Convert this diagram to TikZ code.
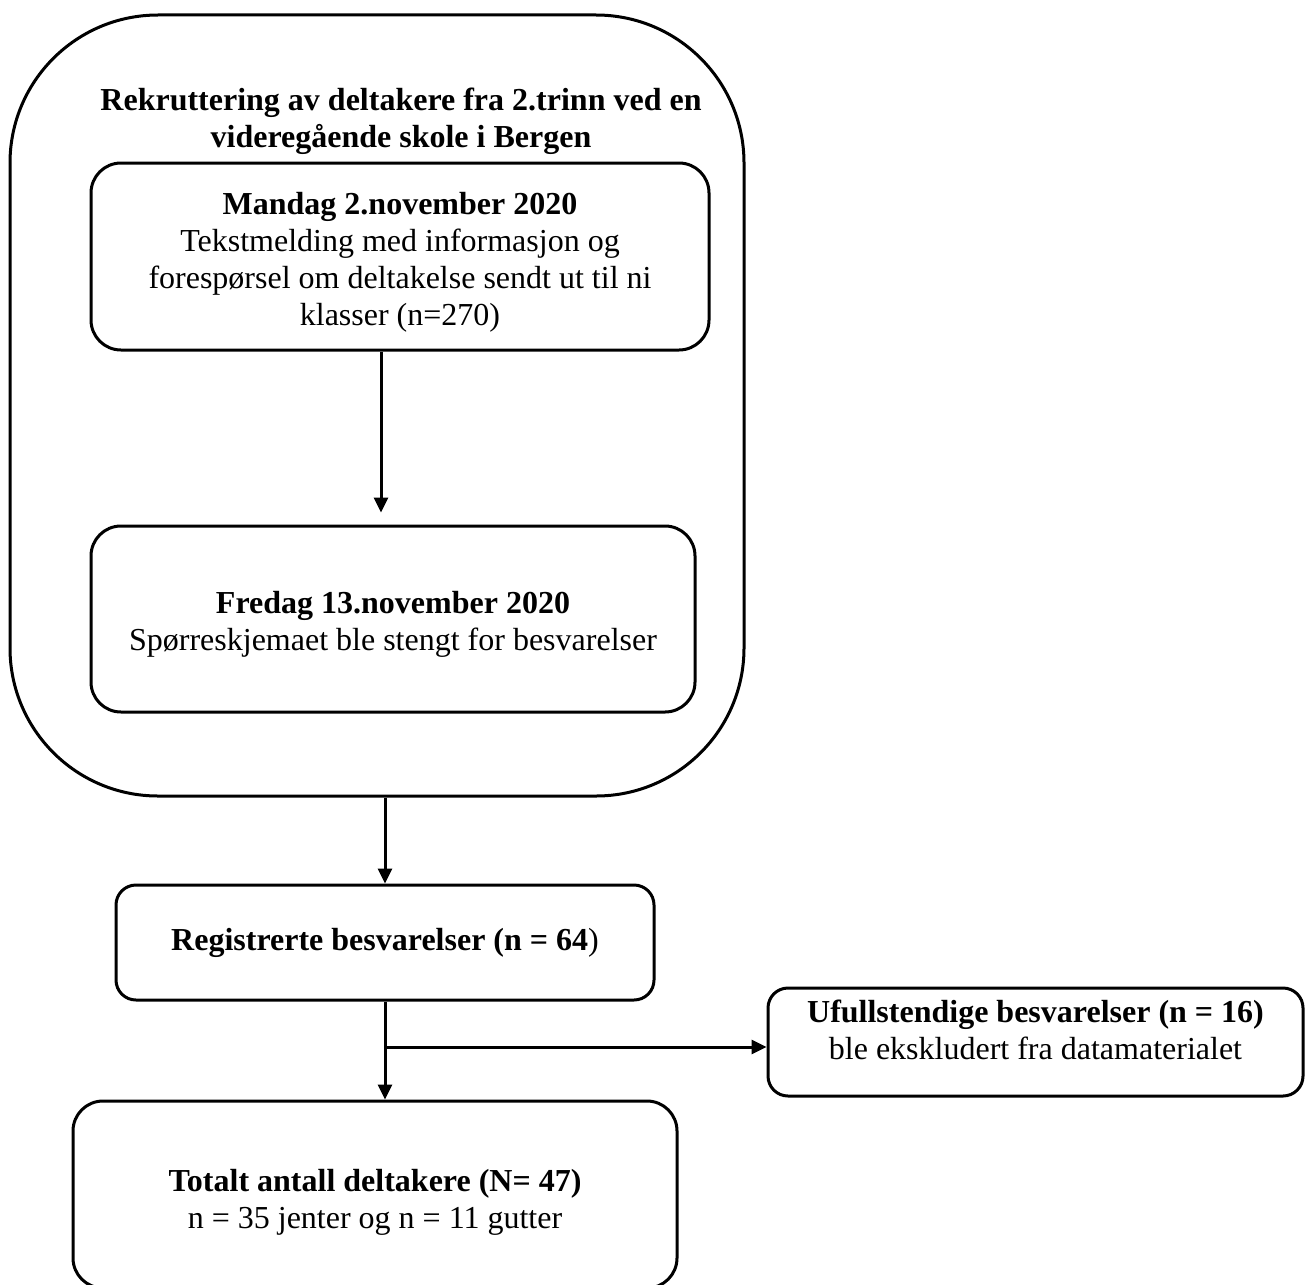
\documentclass[tikz,border=0pt]{standalone}
\usepackage{fontspec}
\setmainfont{Liberation Serif}
\usetikzlibrary{arrows.meta}
\newcommand{\topstrut}[1]{\rule{0pt}{#1}}
\newcommand{\botstrut}[1]{\rule[-#1]{0pt}{#1}}
\begin{document}
\begin{tikzpicture}[x=0.5pt,y=-0.5pt,
  every node/.style={font=\fontsize{16pt}{18.5pt}\selectfont, align=center, inner sep=0pt},
  box/.style={draw, line width=1.5pt, rounded corners=15pt},
  arr/.style={line width=1.5pt, -{Triangle[width=7pt,length=7.5pt]}}]
\useasboundingbox (0,0) rectangle (1310,1284);
\node[box, rounded corners=74pt, minimum width=367pt, minimum height=390.5pt] (outer) at (377,405.5) {};
\node (title) at (401,121) {\textbf{Rekruttering av deltakere fra 2.trinn ved en}\\\textbf{videregående skole i Bergen}};
\node[box, minimum width=309pt, minimum height=93.5pt] (b1) at (400,256.5) {\topstrut{17pt}\textbf{Mandag 2.november 2020}\\Tekstmelding med informasjon og\\forespørsel om deltakelse sendt ut til ni\\klasser (n=270)};
\node[box, minimum width=302pt, minimum height=93pt] (b2) at (393,619) {\topstrut{16pt}\textbf{Fredag 13.november 2020}\\Spørreskjemaet ble stengt for besvarelser};
\node[box, rounded corners=10pt, minimum width=269pt, minimum height=57.5pt] (reg) at (385,942.5) {\textbf{Registrerte besvarelser (n = 64})};
\node[box, rounded corners=10pt, minimum width=267.5pt, minimum height=54pt] (uf) at (1035.5,1042) {\textbf{Ufullstendige besvarelser (n = 16)}\\ble ekskludert fra datamaterialet\botstrut{12pt}};
\node[box, minimum width=302pt, minimum height=93.5pt] (tot) at (375,1194.5) {\topstrut{19pt}\textbf{Totalt antall deltakere (N= 47)}\\n = 35 jenter og n = 11 gutter};
\coordinate (j) at (385,1047);
\draw[arr, shorten >=6pt] (b1.south -| 381,0) -- (b2.north -| 381,0);
\draw[arr] (outer.south -| reg.north) -- (reg.north);
\draw[arr] (reg.south) -- (tot.north -| reg.south);
\draw[arr] (j) -- (j -| uf.west);
\end{tikzpicture}
\end{document}
